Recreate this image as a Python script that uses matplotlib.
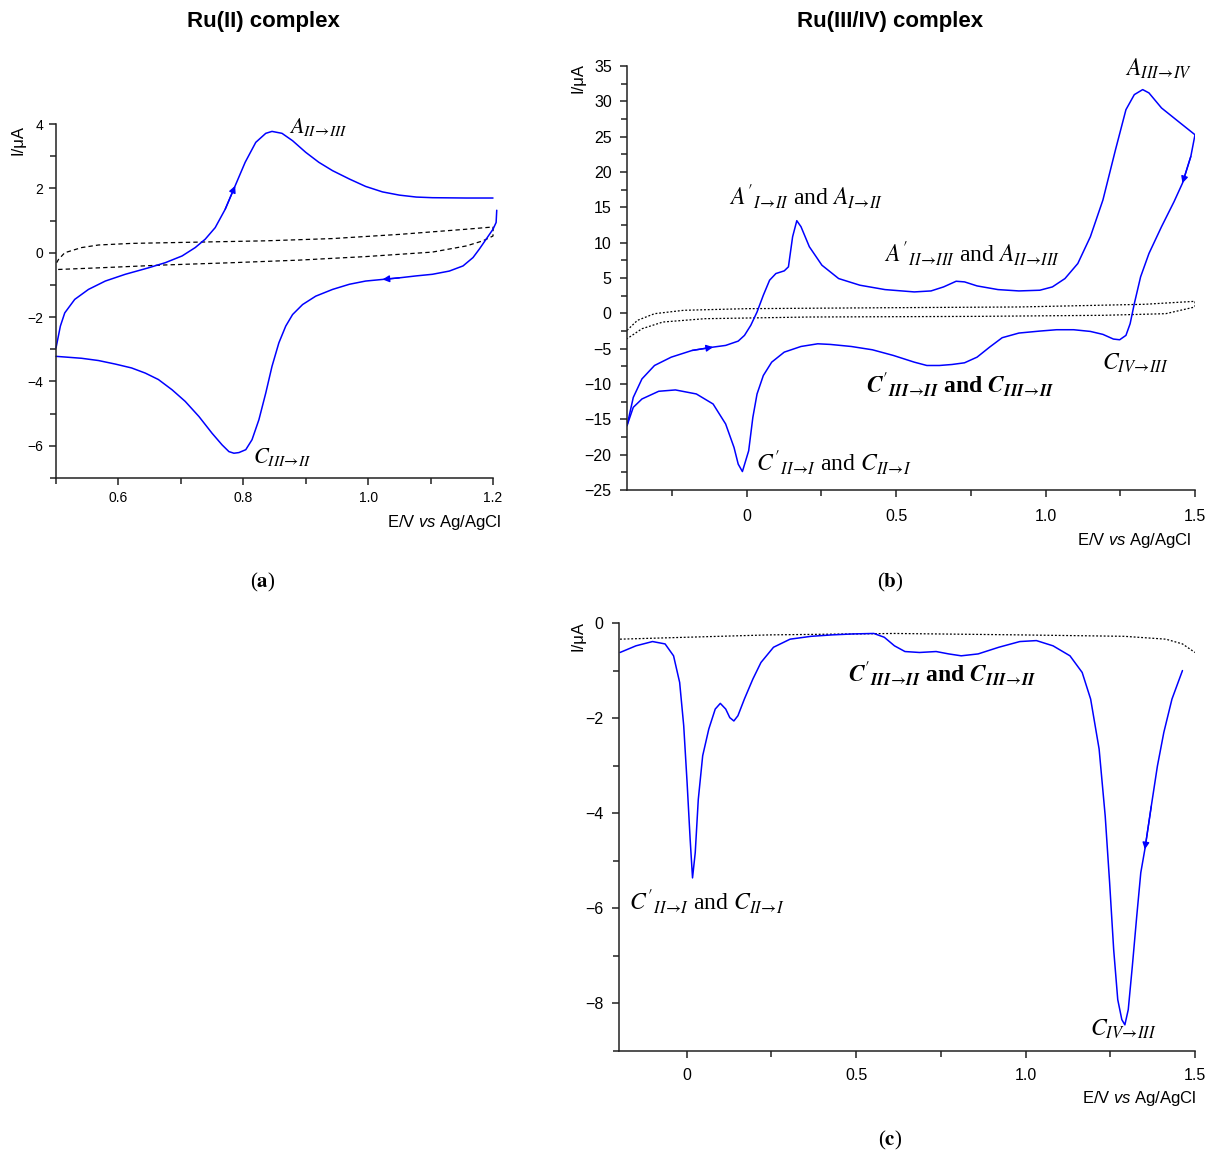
import matplotlib
matplotlib.use('Agg')
import matplotlib.pyplot as plt
from matplotlib.ticker import MultipleLocator, FuncFormatter
from matplotlib.patches import FancyArrowPatch

# ---------------- data ----------------
# (a) Ru(II) complex, CV
a_fwd_E = [0.500, 0.507, 0.514, 0.530, 0.552, 0.579, 0.611, 0.648, 0.675, 0.702, 0.723, 0.739,
           0.755, 0.771, 0.787, 0.803, 0.820, 0.836, 0.846, 0.862, 0.879, 0.900, 0.921, 0.943,
           0.970, 0.996, 1.023, 1.050, 1.077, 1.103, 1.157, 1.200]
a_fwd_I = [-2.96, -2.28, -1.87, -1.45, -1.14, -0.88, -0.67, -0.47, -0.31, -0.10, 0.16, 0.42,
           0.78, 1.35, 2.08, 2.81, 3.43, 3.71, 3.77, 3.71, 3.48, 3.12, 2.81, 2.55,
           2.29, 2.06, 1.89, 1.79, 1.73, 1.71, 1.70, 1.70]
a_rev_E = [1.206, 1.205, 1.200, 1.189, 1.178, 1.168, 1.152, 1.130, 1.103, 1.077, 1.050, 1.023,
           0.996, 0.970, 0.943, 0.916, 0.895, 0.879, 0.868, 0.857, 0.846, 0.836, 0.825, 0.814,
           0.804, 0.793, 0.785, 0.777, 0.766, 0.750, 0.729, 0.707, 0.686, 0.664, 0.643, 0.621,
           0.595, 0.568, 0.541, 0.514, 0.500]
a_rev_I = [1.32, 0.94, 0.73, 0.42, 0.11, -0.15, -0.41, -0.57, -0.67, -0.72, -0.78, -0.83,
           -0.88, -0.98, -1.14, -1.35, -1.61, -1.92, -2.28, -2.80, -3.53, -4.36, -5.19, -5.81,
           -6.12, -6.21, -6.23, -6.18, -5.97, -5.61, -5.09, -4.62, -4.26, -3.94, -3.74, -3.58,
           -3.46, -3.35, -3.28, -3.24, -3.22]
a_blank_E = [0.501, 0.504, 0.514, 0.541, 0.568, 0.621, 0.729, 0.836, 0.943, 1.050, 1.157, 1.200,
             1.200, 1.184, 1.157, 1.103, 0.996, 0.889, 0.782, 0.675, 0.568, 0.504, 0.501]
a_blank_I = [-0.31, -0.21, 0.00, 0.16, 0.24, 0.29, 0.33, 0.37, 0.44, 0.57, 0.73, 0.80,
             0.52, 0.37, 0.21, 0.02, -0.12, -0.23, -0.31, -0.38, -0.47, -0.52, -0.50]

# (b) Ru(III/IV) complex, CV
b_fwd_E = [-0.400, -0.379, -0.350, -0.308, -0.252, -0.182, -0.112, -0.070, -0.028, -0.007, 0.014,
           0.035, 0.056, 0.077, 0.098, 0.126, 0.140, 0.154, 0.168, 0.182, 0.210, 0.252, 0.308,
           0.379, 0.463, 0.561, 0.617, 0.659, 0.701, 0.729, 0.771, 0.841, 0.911, 0.981, 1.023,
           1.065, 1.108, 1.150, 1.192, 1.234, 1.269, 1.297, 1.325, 1.346, 1.388, 1.444, 1.500]
b_fwd_I = [-15.90, -11.90, -9.28, -7.38, -6.20, -5.25, -4.78, -4.54, -3.93, -3.12, -1.70,
           0.19, 2.56, 4.69, 5.63, 6.01, 6.58, 10.84, 13.11, 12.26, 9.42, 6.81, 4.92,
           3.98, 3.36, 3.03, 3.17, 3.74, 4.54, 4.45, 3.88, 3.36, 3.17, 3.27, 3.74,
           4.92, 7.05, 10.84, 16.04, 23.14, 28.82, 30.95, 31.66, 31.19, 29.06, 27.16, 25.27]
b_rev_E = [1.500, 1.486, 1.458, 1.430, 1.388, 1.346, 1.318, 1.297, 1.283, 1.269, 1.248, 1.227,
           1.192, 1.150, 1.094, 1.037, 0.981, 0.911, 0.855, 0.813, 0.771, 0.729, 0.687, 0.645,
           0.603, 0.561, 0.491, 0.421, 0.350, 0.280, 0.238, 0.182, 0.126, 0.084, 0.056, 0.035,
           0.021, 0.007, -0.014, -0.028, -0.042, -0.070, -0.112, -0.168, -0.238, -0.294,
           -0.350, -0.379, -0.400]
b_rev_I = [25.27, 22.20, 18.41, 15.81, 12.26, 8.47, 5.16, 1.37, -1.47, -3.12, -3.74, -3.64,
           -2.98, -2.56, -2.32, -2.32, -2.51, -2.79, -3.45, -4.78, -6.20, -7.00, -7.24, -7.38,
           -7.38, -6.91, -5.96, -5.16, -4.69, -4.40, -4.31, -4.69, -5.49, -6.91, -8.80, -11.41,
           -14.72, -19.45, -22.39, -21.34, -18.98, -15.66, -12.83, -11.41, -10.84, -11.03,
           -12.12, -13.30, -15.90]
b_blank_E = [-0.400, -0.365, -0.308, -0.210, 0.000, 0.491, 0.911, 1.332, 1.500,
             1.500, 1.402, 1.192, 0.771, 0.210, -0.140, -0.280, -0.350, -0.400]
b_blank_I = [-2.41, -0.99, -0.05, 0.43, 0.66, 0.80, 0.90, 1.28, 1.70,
             0.90, -0.05, -0.28, -0.43, -0.52, -0.76, -1.23, -2.18, -3.60]

# (c) Ru(III/IV) complex, cathodic sweep
c_E = [-0.197, -0.150, -0.101, -0.064, -0.039, -0.021, -0.009, 0.001, 0.010, 0.017, 0.025,
       0.034, 0.047, 0.065, 0.084, 0.099, 0.115, 0.127, 0.139, 0.151, 0.170, 0.195, 0.219,
       0.256, 0.305, 0.367, 0.429, 0.490, 0.552, 0.583, 0.613, 0.644, 0.687, 0.736, 0.773,
       0.810, 0.860, 0.921, 0.983, 1.032, 1.081, 1.131, 1.167, 1.192, 1.217, 1.235, 1.248,
       1.260, 1.272, 1.284, 1.293, 1.303, 1.315, 1.328, 1.340, 1.352, 1.371, 1.389, 1.408,
       1.432, 1.463]
c_I = [-0.62, -0.48, -0.39, -0.44, -0.69, -1.25, -2.16, -3.36, -4.55, -5.36, -4.83,
       -3.71, -2.79, -2.23, -1.81, -1.69, -1.81, -1.99, -2.06, -1.95, -1.60, -1.18, -0.83,
       -0.51, -0.34, -0.28, -0.25, -0.23, -0.22, -0.30, -0.48, -0.60, -0.62, -0.60, -0.65,
       -0.69, -0.65, -0.51, -0.39, -0.37, -0.48, -0.69, -1.04, -1.60, -2.65, -4.06, -5.46,
       -6.87, -7.92, -8.34, -8.45, -8.13, -7.22, -6.17, -5.25, -4.76, -3.85, -3.01, -2.30,
       -1.60, -1.00]
c_blank_E = [-0.197, -0.002, 0.244, 0.613, 0.983, 1.291, 1.414, 1.463, 1.500]
c_blank_I = [-0.34, -0.30, -0.25, -0.22, -0.25, -0.28, -0.34, -0.44, -0.62]

titles = ["Ru(II) complex", "Ru(III/IV) complex"]
panel_tags = ["a", "b", "c"]
xlabel = "E/V $\\mathit{vs}$ Ag/AgCl"
ylabel = "I/\u03bcA"

# ---------------- style ----------------
plt.rcParams['font.family'] = ['Liberation Sans', 'DejaVu Sans']
plt.rcParams['mathtext.fontset'] = 'custom'
plt.rcParams['mathtext.rm'] = 'Liberation Sans'
plt.rcParams['mathtext.it'] = 'Liberation Sans:italic'
plt.rcParams['mathtext.bf'] = 'Liberation Sans:bold'
plt.rcParams['axes.unicode_minus'] = True

W, H = 1215, 1156
fig = plt.figure(figsize=(W / 100, H / 100), dpi=100)
BLUE = '#0000ff'
AR = r"\!\rightarrow\!"


def px_axes(l, t, r, b):
    return fig.add_axes([l / W, 1 - b / H, (r - l) / W, (b - t) / H])


def style(ax, xlim, ylim, xmaj, xmin, ymaj, ymin, fs, xpad, ypad, fmt=None):
    ax.set_xlim(xlim)
    ax.set_ylim(ylim)
    for s in ['top', 'right']:
        ax.spines[s].set_visible(False)
    for s in ['left', 'bottom']:
        ax.spines[s].set_linewidth(1.1)
        ax.spines[s].set_color('#222222')
    ax.xaxis.set_major_locator(MultipleLocator(xmaj))
    ax.xaxis.set_minor_locator(MultipleLocator(xmin))
    ax.yaxis.set_major_locator(MultipleLocator(ymaj))
    ax.yaxis.set_minor_locator(MultipleLocator(ymin))
    if fmt is not None:
        ax.xaxis.set_major_formatter(FuncFormatter(fmt))
    ax.tick_params(which='both', direction='out', width=1.1, color='#222222', labelsize=fs)
    ax.tick_params(which='major', length=5)
    ax.tick_params(which='minor', length=4)
    ax.tick_params(axis='x', which='major', pad=xpad)
    ax.tick_params(axis='y', which='major', pad=ypad)
    ax.patch.set_alpha(0)


def xfmt(v, p):
    return '0' if abs(v) < 1e-9 else f'{v:.1f}'


def arrow(ax, xs, ys, i, j):
    ax.add_patch(FancyArrowPatch((xs[i], ys[i]), (xs[j], ys[j]),
                                 arrowstyle='-|>', mutation_scale=10, color=BLUE,
                                 lw=1.0, shrinkA=0, shrinkB=0, clip_on=False, zorder=5))


def ann(ax, x, y, s, fs, bold=False):
    ax.text(x, y, s, fontsize=fs, family=['Liberation Serif', 'DejaVu Serif'],
            math_fontfamily='stix', fontweight='bold' if bold else 'normal',
            ha='left', va='baseline', clip_on=False)


def ftext(x, y, s, **kw):
    fig.text(x / W, 1 - y / H, s, **kw)


def plot_line(ax, xs, ys, **kw):
    ax.plot(xs, ys, solid_joinstyle='round', solid_capstyle='round', **kw)


bold_c3 = (r"$\mathbfit{C}'_{\mathbfit{III}" + AR + r"\mathbfit{II}}$ and $\mathbfit{C}_{\mathbfit{III}"
           + AR + r"\mathbfit{II}}$")

# ---------------- panel (a) ----------------
axa = px_axes(56, 124, 493, 478)
style(axa, (0.5, 1.2), (-7, 4), 0.2, 0.1, 2, 1, 10, 4, 4)
axa.plot(a_blank_E, a_blank_I, color='black', lw=0.9, ls=(0, (3.5, 2.5)), clip_on=False)
plot_line(axa, a_fwd_E, a_fwd_I, color=BLUE, lw=1.1, clip_on=False)
plot_line(axa, a_rev_E, a_rev_I, color=BLUE, lw=1.1, clip_on=False)
arrow(axa, a_fwd_E, a_fwd_I, 13, 14)
arrow(axa, a_rev_E, a_rev_I, 10, 11)
ann(axa, 0.874, 3.72, r"$A_{II" + AR + r"III}$", 16)
ann(axa, 0.815, -6.52, r"$C_{III" + AR + r"II}$", 16)

# ---------------- panel (b) ----------------
axb = px_axes(627, 66, 1195, 490)
style(axb, (-0.4, 1.5), (-25, 35), 0.5, 0.25, 5, 2.5, 11.5, 9, 6, xfmt)
axb.plot(b_blank_E, b_blank_I, color='black', lw=0.9, ls=(0, (1.5, 1.5)))
plot_line(axb, b_fwd_E, b_fwd_I, color=BLUE, lw=1.1)
plot_line(axb, b_rev_E, b_rev_I, color=BLUE, lw=1.1)
arrow(axb, b_fwd_E, b_fwd_I, 5, 6)
arrow(axb, b_rev_E, b_rev_I, 1, 2)
ann(axb, 1.265, 33.6, r"$A_{III" + AR + r"IV}$", 17)
ann(axb, -0.06, 15.4, r"$A'_{I" + AR + r"II}$ and $A_{I" + AR + r"II}$", 17)
ann(axb, 0.46, 7.25, r"$A'_{II" + AR + r"III}$ and $A_{II" + AR + r"III}$", 17)
ann(axb, 0.40, -11.2, bold_c3, 17, bold=True)
ann(axb, 1.19, -8.0, r"$C_{IV" + AR + r"III}$", 17)
ann(axb, 0.03, -22.3, r"$C'_{II" + AR + r"I}$ and $C_{II" + AR + r"I}$", 17)

# ---------------- panel (c) ----------------
axc = px_axes(619, 623, 1195, 1051)
style(axc, (-0.2, 1.5), (-9, 0), 0.5, 0.25, 2, 1, 11.5, 7, 6, xfmt)
axc.plot(c_blank_E, c_blank_I, color='black', lw=0.9, ls=(0, (1.5, 1.5)))
plot_line(axc, c_E, c_I, color=BLUE, lw=1.1)
arrow(axc, c_E, c_I, 56, 55)
ann(axc, 0.475, -1.24, bold_c3, 17, bold=True)
ann(axc, -0.17, -6.04, r"$C'_{II" + AR + r"I}$ and $C_{II" + AR + r"I}$", 17)
ann(axc, 1.19, -8.67, r"$C_{IV" + AR + r"III}$", 17)

# ---------------- figure texts ----------------
ftext(263, 22, titles[0], fontsize=16, fontweight='bold', ha='center', va='center')
ftext(890, 22, titles[1], fontsize=16, fontweight='bold', ha='center', va='center')

for (x, y) in [(502, 523), (1192, 541), (1197, 1099)]:
    ftext(x, y, xlabel, fontsize=12, ha='right', va='center')
for (x, y) in [(18, 125), (578, 63), (578, 621)]:
    ftext(x, y, ylabel, fontsize=12, rotation=90, ha='center', va='top')

for tag, (x, y) in zip(panel_tags, [(263, 582), (890, 582), (890, 1140)]):
    ftext(x, y, "($\\mathbf{%s}$)" % tag, fontsize=15, family=['Liberation Serif'],
          math_fontfamily='stix', ha='center', va='center')

fig.savefig('out.png', dpi=100)
